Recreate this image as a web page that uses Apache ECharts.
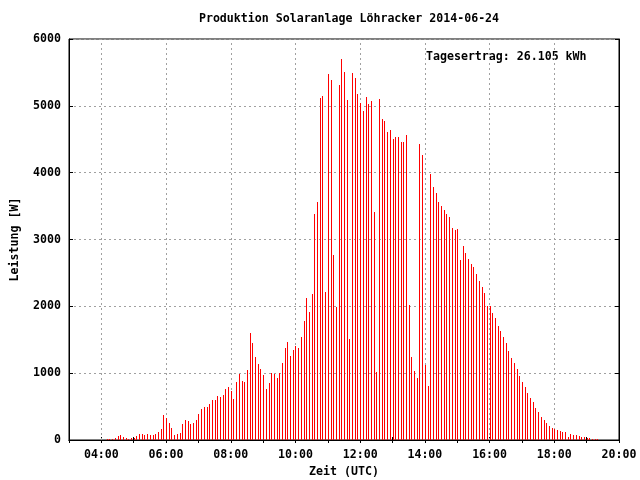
<!DOCTYPE html>
<html>
<head>
<meta charset="utf-8">
<script src="https://cdn.jsdelivr.net/npm/echarts@6/dist/echarts.min.js"></script>
<style>
html,body{margin:0;padding:0;background:#fff;}
#chart{width:640px;height:480px;}
</style>
</head>
<body>
<div id="chart"></div>
<script>
// ---- data ----
const titleText = 'Produktion Solaranlage Löhracker 2014-06-24';
const yieldText = 'Tagesertrag: 26.105 kWh';
const xAxisName = 'Zeit (UTC)';
const yAxisName = 'Leistung [W]';
const startTime = '04:10';      // first sample (UTC)
const stepMinutes = 5;          // sample interval
const gridHours = [4, 6, 8, 10, 12, 14, 16, 18];
const yTicks = [0, 1000, 2000, 3000, 4000, 5000, 6000];
const powerW = [
  20, 15, 20, 35, 55, 70, 50, 35, 20, 35, 35, 55, 95, 95, 80, 95, 80, 80, 95, 125,
  170, 378, 328, 259, 184, 80, 95, 110, 244, 303, 289, 244, 259, 303, 393, 468, 498, 498, 542, 602,
  602, 662, 647, 677, 766, 796, 736, 617, 871, 990, 886, 871, 1050, 1602, 1453, 1244, 1139, 1065, 975, 766,
  856, 1000, 990, 930, 1000, 1159, 1378, 1468, 1259, 1348, 1408, 1378, 1542, 1781, 2124, 1915, 2184, 3378, 3557, 5124,
  5154, 2214, 5483, 5393, 2766, 1990, 5318, 5706, 5512, 5080, 1512, 5498, 5423, 5184, 5035, 4930, 5139, 5020, 5065, 3408,
  1020, 5109, 4796, 4766, 4602, 4632, 4498, 4527, 4527, 4453, 4453, 4557, 2020, 1244, 1035, 930, 4423, 4259, 1124, 811,
  3975, 3781, 3692, 3557, 3498, 3438, 3378, 3333, 3169, 3139, 3154, 2692, 2900, 2796, 2706, 2632, 2587, 2483, 2378, 2289,
  2199, 2005, 2005, 1900, 1826, 1706, 1632, 1542, 1453, 1333, 1229, 1154, 1065, 960, 871, 796, 706, 632, 572, 483,
  423, 348, 303, 259, 214, 184, 169, 154, 139, 124, 124, 50, 95, 80, 80, 65, 50, 50, 35, 35,
  20, 20, 20
];

// ---- build ----
const FONT = '"DejaVu Sans Mono", "Liberation Mono", monospace';
const [sh, sm] = startTime.split(':').map(Number);
const startHour = sh + sm / 60;
const seriesData = powerW.map((v, i) => [startHour + i * stepMinutes / 60, v]);
const pad = n => (n < 10 ? '0' : '') + n;

const gridStyle = { color: '#a0a0a0', width: 1, type: [2, 3] };
const textBase = { fontFamily: FONT, fontWeight: 'bold', fontSize: 11.6, color: '#000' };

const chart = echarts.init(document.getElementById('chart'), null, { renderer: 'canvas' });
chart.setOption({
  animation: false,
  backgroundColor: '#fff',
  title: {
    text: titleText, left: 344, textAlign: 'center', top: 8,
    textStyle: Object.assign({}, textBase)
  },
  grid: {
    left: 69, right: 21, top: 39, bottom: 40, containLabel: false, outerBoundsMode: 'none',
    show: true, borderColor: '#000', borderWidth: 1
  },
  graphic: [{
    type: 'text', left: 426, top: 51,
    style: { text: yieldText, font: 'bold 11.6px ' + FONT, fill: '#000' }
  }],
  xAxis: [{
    type: 'value', min: 3, max: 20, interval: 1, position: 'bottom',
    name: xAxisName, nameLocation: 'middle', nameGap: 26,
    nameTextStyle: Object.assign({}, textBase),
    axisLine: { show: true, lineStyle: { color: '#000', width: 1 } },
    axisTick: { show: true, inside: true, length: 3, lineStyle: { color: '#000' } },
    axisLabel: Object.assign({ margin: 9, formatter: v => (v % 2 === 0 && v > 3 ? pad(v) + ':00' : '') }, textBase),
    splitLine: { show: false }
  }, {
    type: 'value', min: 3, max: 20, interval: 1, position: 'top',
    axisLine: { show: true, lineStyle: { color: '#000', width: 1 } },
    axisTick: { show: true, inside: true, length: 3, lineStyle: { color: '#000' } },
    axisLabel: { show: false }, splitLine: { show: false }
  }],
  yAxis: [{
    type: 'value', min: yTicks[0], max: yTicks[yTicks.length - 1], interval: 1000, position: 'left',
    name: yAxisName, nameLocation: 'middle', nameGap: 48, nameRotate: 90,
    nameTextStyle: Object.assign({}, textBase),
    axisLine: { show: true, lineStyle: { color: '#000', width: 1 } },
    axisTick: { show: true, inside: true, length: 4, lineStyle: { color: '#000' } },
    axisLabel: Object.assign({ margin: 8, formatter: v => String(v) }, textBase),
    splitLine: { show: true, lineStyle: gridStyle }
  }, {
    type: 'value', min: yTicks[0], max: yTicks[yTicks.length - 1], interval: 1000, position: 'right',
    axisLine: { show: true, lineStyle: { color: '#000', width: 1 } },
    axisTick: { show: true, inside: true, length: 4, lineStyle: { color: '#000' } },
    axisLabel: { show: false }, splitLine: { show: false }
  }],
  series: [{
    type: 'custom',
    xAxisIndex: 0, yAxisIndex: 0,
    data: seriesData,
    z: 3,
    renderItem: function (params, api) {
      const x = api.value(0), y = api.value(1);
      const top = api.coord([x, y]);
      const base = api.coord([x, 0]);
      const px = Math.round(top[0]);
      const ty = Math.round(top[1]);
      const by = Math.round(base[1]);
      return { type: 'rect', shape: { x: px, y: ty, width: 1, height: by - ty }, style: { fill: '#ff0000' } };
    },
    markLine: {
      silent: true, symbol: 'none', label: { show: false }, z: 1,
      lineStyle: gridStyle,
      data: gridHours.map(h => ({ xAxis: h }))
    }
  }]
});
</script>
</body>
</html>
